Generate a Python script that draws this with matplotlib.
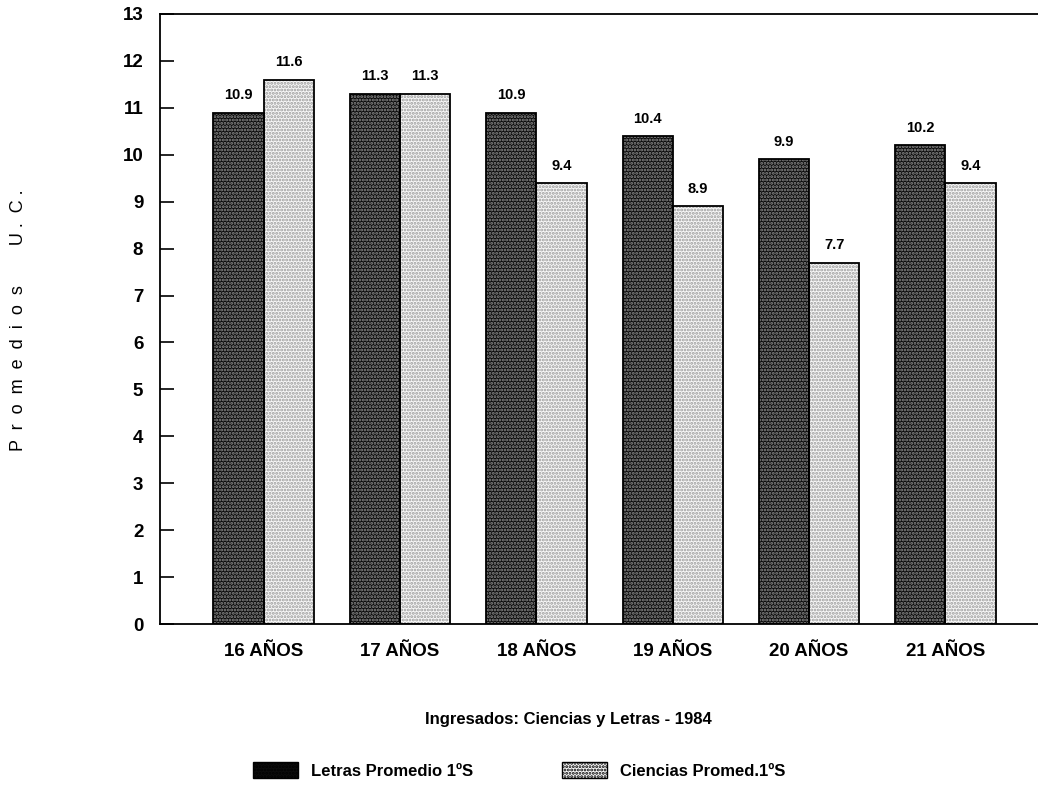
import numpy as np
import matplotlib.pyplot as plt

categories = ['16 AÑOS', '17 AÑOS', '18 AÑOS', '19 AÑOS', '20 AÑOS', '21 AÑOS']
letras = [10.9, 11.3, 10.9, 10.4, 9.9, 10.2]
ciencias = [11.6, 11.3, 9.4, 8.9, 7.7, 9.4]
series_names = ['Letras Promedio 1ºS', 'Ciencias Promed.1ºS']

plt.rcParams['font.family'] = 'Liberation Sans'
plt.rcParams['hatch.linewidth'] = 1.4

fig = plt.figure(figsize=(10.38, 7.86), dpi=100)
ax = fig.add_axes([0.1541, 0.2061, 0.85, 0.7761])

x = np.arange(len(categories))
w = 0.368

# patterned fills first, black outlines drawn on top
dark = ax.bar(x - w / 2, letras, w, color='#0c0c0c', hatch='.....',
              edgecolor='#8c8c8c', linewidth=0)
light = ax.bar(x + w / 2, ciencias, w, color='#f8f8f8', hatch='.....',
               edgecolor='#9a9a9a', linewidth=0)
ax.bar(x - w / 2, letras, w, fill=False, edgecolor='black', linewidth=1.3)
ax.bar(x + w / 2, ciencias, w, fill=False, edgecolor='black', linewidth=1.3)

for xi, v in zip(x, letras):
    ax.text(xi - w / 2, v + 0.22, f'{v:.1f}', ha='center', va='bottom',
            fontsize=10.5, fontweight='bold')
for xi, v in zip(x, ciencias):
    ax.text(xi + w / 2, v + 0.22, f'{v:.1f}', ha='center', va='bottom',
            fontsize=10.5, fontweight='bold')

ax.set_xlim(-0.76, 5.71)
ax.set_ylim(0, 13)
ax.set_yticks(range(0, 14))
ax.set_xticks(x)
ax.set_xticklabels(categories)
ax.tick_params(axis='y', direction='in', length=10, width=1.2, pad=12,
               labelsize=13.5)
ax.tick_params(axis='x', length=0, pad=14, labelsize=13.5)
for lab in ax.get_xticklabels() + ax.get_yticklabels():
    lab.set_fontweight('bold')
ax.spines['right'].set_visible(False)
for s in ['left', 'top', 'bottom']:
    ax.spines[s].set_linewidth(1.3)

fig.text(0.018, 0.593, 'P  r  o  m  e  d  i  o  s        U .  C .', rotation=90,
         ha='center', va='center', fontsize=13)
fig.text(0.548, 0.084, 'Ingresados: Ciencias y Letras - 1984', ha='center',
         va='center', fontsize=12, fontweight='bold')

leg = fig.legend([dark, light], series_names, loc='center',
                 bbox_to_anchor=(0.5, 0.02), ncol=2, frameon=False,
                 handlelength=2.7, handleheight=1.1, columnspacing=5.3,
                 prop={'size': 12, 'weight': 'bold'})
for h in leg.legend_handles:
    h.set_edgecolor('black')
    h.set_linewidth(1)

fig.savefig('out.png', dpi=100)
